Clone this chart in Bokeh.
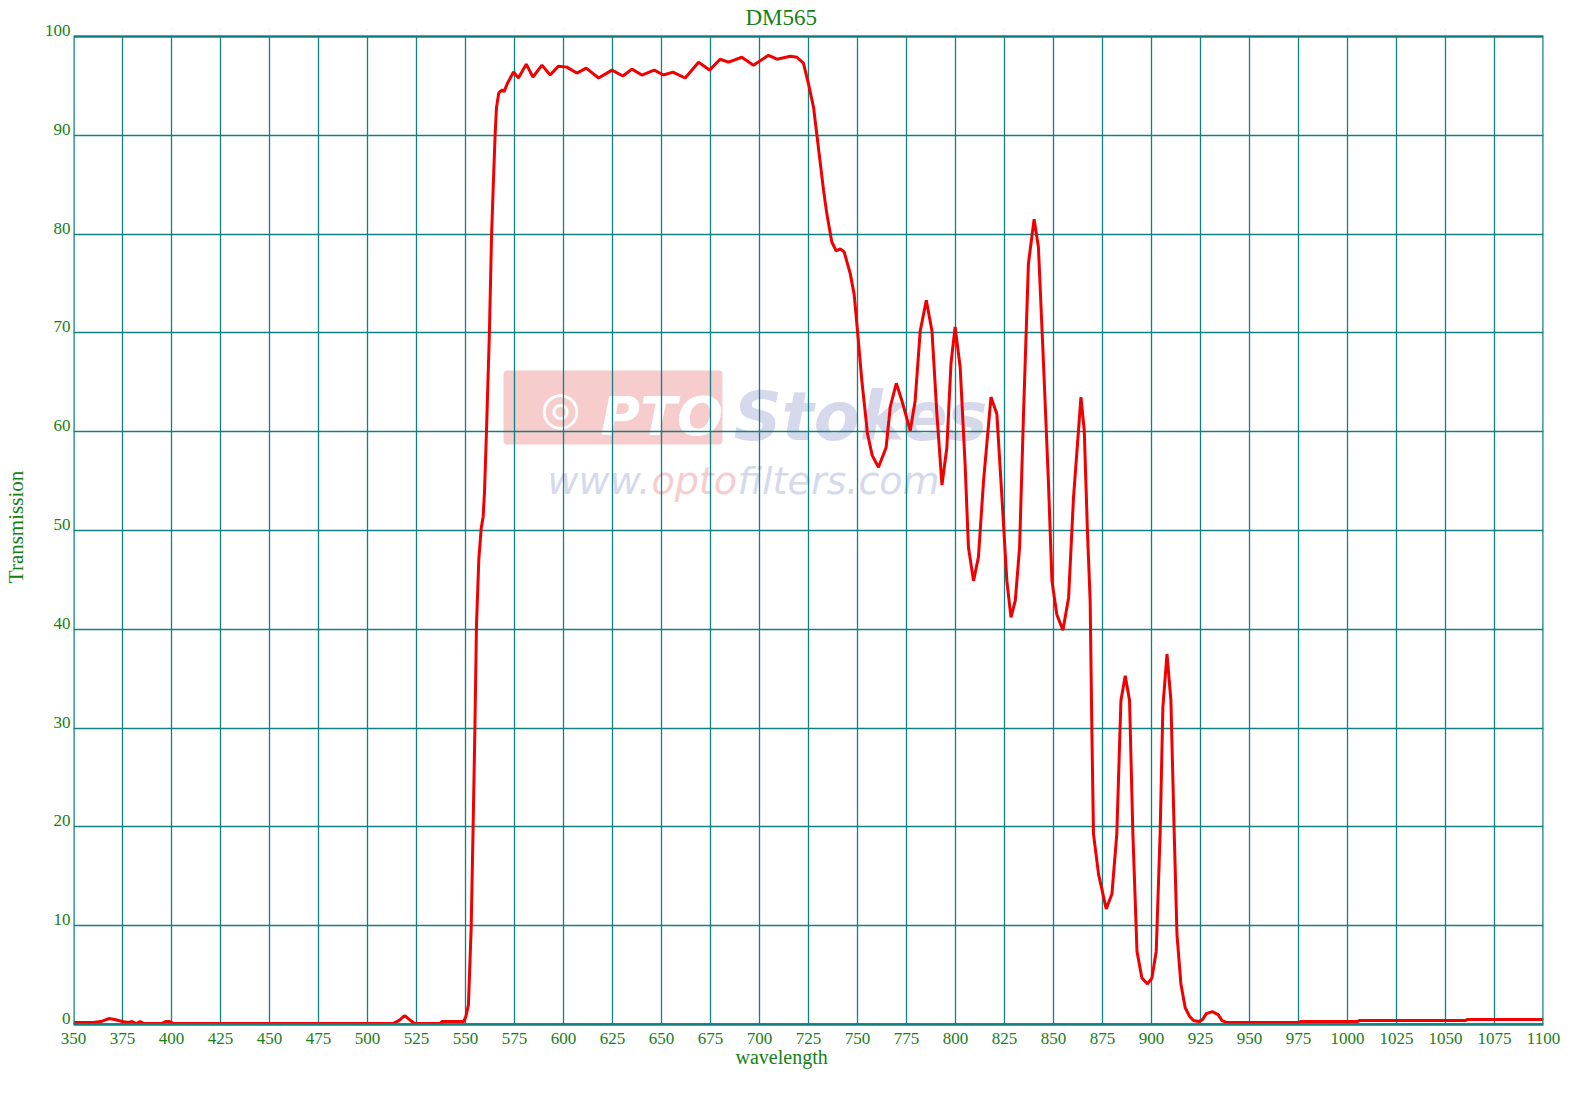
from bokeh.plotting import figure
from bokeh.models import (Label, FixedTicker, BoxAnnotation, Title, Grid,
                          LinearAxis, Range1d)
from bokeh.embed import file_html
from bokeh.resources import INLINE

# ---------------- data ----------------
wavelength = [
    350, 360, 364, 368, 371, 375, 378, 380, 382, 384, 386, 395, 397, 399, 401,
    450, 500, 513, 516, 519, 522, 524, 537, 538, 549,
    550.2, 551.5, 552.9, 553.9, 554.8, 555.6, 556.8, 558.0, 559.0, 559.7,
    560.7, 562.2, 563.3, 564.1, 565.1, 565.8, 567.0, 568.7, 569.6, 571.5,
    574.5, 577.0, 581.0, 584.4, 589.0, 593.2, 597.4, 601.7, 606.8, 611.6,
    617.9, 624.7, 630.3, 634.9, 640.0, 646.3, 651.0, 655.8, 662.1, 668.9,
    674.5, 679.9, 684.2, 691.0, 696.9, 704.6, 708.9, 715.7, 719.1, 722.4,
    725.0, 727.6, 729.3, 732.7, 734.4, 736.9, 739.1, 741.2, 743.2, 746.3,
    748.3, 750.0, 752.2, 755.1, 757.5, 760.7, 764.6, 766.7, 769.8, 772.7,
    776.9, 779.4, 782.0, 785.1, 788.0, 790.5, 793.1, 795.6, 797.7, 799.8,
    802.4, 804.9, 806.6, 809.2, 811.7, 814.3, 818.1, 821.1, 823.7, 826.2,
    828.3, 830.5, 832.7, 834.7, 837.2, 840.1, 842.3, 844.9, 847.4, 849.2,
    851.7, 854.8, 857.7, 860.2, 864.0, 865.7, 867.3, 868.7, 869.6, 870.4,
    873.0, 876.9, 879.8, 882.3, 884.4, 886.6, 888.8, 890.5, 892.6, 895.1,
    898.0, 900.2, 902.4, 904.4, 905.8, 907.9, 909.9, 911.6, 913.0, 915.0,
    917.2, 919.5, 921.4, 924, 926, 928, 931, 934, 936, 938.5,
    960, 975, 976, 1005, 1006, 1060, 1061, 1100,
]
transmission = [
    0.2, 0.2, 0.3, 0.6, 0.5, 0.3, 0.2, 0.3, 0.1, 0.3, 0.1, 0.1, 0.3, 0.3, 0.1,
    0.1, 0.1, 0.1, 0.4, 0.9, 0.4, 0.1, 0.1, 0.3, 0.3,
    0.8, 2.0, 9.8, 20.2, 30.0, 40.4, 47.1, 50.2, 51.4, 53.9,
    60.0, 70.1, 79.9, 84.5, 90.0, 92.8, 94.3, 94.6, 94.4, 95.3,
    96.4, 95.8, 97.2, 95.9, 97.1, 96.1, 97.0, 96.9, 96.3, 96.8,
    95.8, 96.6, 96.0, 96.7, 96.1, 96.6, 96.1, 96.4, 95.8, 97.4,
    96.6, 97.7, 97.4, 97.9, 97.1, 98.1, 97.7, 98.0, 97.9, 97.3,
    95.2, 92.8, 90.0, 84.4, 82.0, 79.2, 78.3, 78.5, 78.2, 76.0,
    73.9, 70.2, 65.2, 59.8, 57.6, 56.4, 58.4, 62.5, 64.9, 63.1,
    60.1, 63.1, 70.2, 73.3, 70.2, 61.8, 54.6, 58.4, 66.9, 70.6,
    66.5, 56.7, 48.3, 44.9, 47.3, 55.0, 63.5, 61.8, 53.3, 44.9,
    41.2, 42.9, 48.3, 61.8, 77.0, 81.5, 78.7, 66.9, 55.0, 44.9,
    41.5, 39.9, 43.2, 53.3, 63.5, 60.1, 50.0, 42.9, 29.4, 19.3,
    15.2, 11.7, 13.2, 19.3, 32.8, 35.3, 32.8, 19.3, 7.4, 4.7,
    4.1, 4.7, 7.4, 19.3, 32.1, 37.5, 32.8, 19.3, 9.1, 4.1,
    1.7, 0.8, 0.4, 0.3, 0.5, 1.1, 1.3, 1.0, 0.4, 0.2,
    0.2, 0.2, 0.3, 0.3, 0.4, 0.4, 0.5, 0.5,
]
x_ticks = list(range(350, 1101, 25))
y_ticks = list(range(0, 101, 10))
title_text = "DM565"
x_label = "wavelength"
y_label = "Transmission"

# ---------------- styling ----------------
TEAL = "#108080"
GREEN = "#168016"
RED = "#f00000"
SERIF = "Liberation Serif"

X0, X1, Y0, Y1 = 350, 1100, 0, 100
PLOT_L, PLOT_T, PLOT_W, PLOT_H = 73, 36, 1470, 988   # page box of the 350-1100 x 0-100 area
PAD_T = 7                                            # frame reaches a little above the 100 line
FL, FT, FW, FH = PLOT_L, PLOT_T - PAD_T, PLOT_W, PLOT_H + PAD_T
FR, FB = 30, 60
W, H = FL + FW + FR, FT + FH + FB
Y_TOP = Y1 + (Y1 - Y0) * PAD_T / PLOT_H
LABEL_LIFT = 0.6   # y tick labels sit a little above their grid line

def px2x(px):   # page pixel -> data x (figure sits at the page origin)
    return X0 + (px - PLOT_L) * (X1 - X0) / PLOT_W

def px2y(py):   # page pixel -> data y
    return Y0 + ((PLOT_T + PLOT_H) - py) * (Y1 - Y0) / PLOT_H

p = figure(width=W, height=H, x_range=(X0, X1), y_range=(Y0, Y_TOP),
           extra_y_ranges={"lab": Range1d(Y0 - LABEL_LIFT, Y_TOP - LABEL_LIFT)},
           output_backend="svg", toolbar_location=None,
           title_location=None, y_axis_location=None,
           min_border_left=FL, min_border_right=FR,
           min_border_top=FT, min_border_bottom=FB)
p.background_fill_color = "white"
p.border_fill_color = "white"
p.outline_line_color = None

# title
p.add_layout(Title(text=title_text, align="left", offset=672, standoff=0,
                   text_font=SERIF, text_font_size="23px", text_font_style="normal",
                   text_color=GREEN), "above")

# x axis
ax = p.xaxis[0]
ax.ticker = FixedTicker(ticks=x_ticks)
ax.major_tick_line_color = None
ax.minor_tick_line_color = None
ax.major_tick_out = 0
ax.major_tick_in = 0
ax.axis_line_color = TEAL
ax.axis_line_width = 2.5
ax.major_label_standoff = 8
ax.major_label_text_font = SERIF
ax.major_label_text_font_size = "17px"
ax.major_label_text_color = GREEN

p.add_layout(Title(text=x_label, align="left", offset=662, standoff=-6,
                   text_font=SERIF, text_font_size="20px", text_font_style="normal",
                   text_color=GREEN), "below")

# y axis (labels drawn on a slightly lifted copy of the y scale)
ay = LinearAxis(y_range_name="lab", ticker=FixedTicker(ticks=y_ticks))
ay.major_tick_line_color = None
ay.minor_tick_line_color = None
ay.major_tick_out = 0
ay.major_tick_in = 0
ay.axis_line_color = None
ay.major_label_standoff = 3
ay.major_label_text_font = SERIF
ay.major_label_text_font_size = "17px"
ay.major_label_text_color = GREEN
ay.axis_label = y_label
ay.axis_label_standoff = 14
ay.axis_label_text_font = SERIF
ay.axis_label_text_font_size = "21px"
ay.axis_label_text_font_style = "normal"
ay.axis_label_text_color = GREEN
p.add_layout(ay, "left")

# grid (inner lines; the outer ones are the border box)
p.xgrid.ticker = FixedTicker(ticks=x_ticks[1:-1])
p.xgrid.grid_line_color = TEAL
p.xgrid.grid_line_width = 1.3
p.add_layout(Grid(dimension=1, ticker=FixedTicker(ticks=y_ticks[:-1]),
                  grid_line_color=TEAL, grid_line_width=1.3))

# ---------------- watermark (under the grid) ----------------
p.add_layout(BoxAnnotation(left=px2x(503), right=px2x(722), top=px2y(370), bottom=px2y(444),
                           fill_color="#f7cccc", fill_alpha=1, line_color=None,
                           level="image", border_radius=4))
p.add_layout(Label(x=px2x(560), y=px2y(407), text="◎", text_align="center", text_baseline="middle",
                   text_font="DejaVu Sans", text_font_size="46px", text_color="white", level="image"))
p.add_layout(Label(x=px2x(600), y=px2y(416), text="PTO", text_align="left", text_baseline="alphabetic",
                   text_font="DejaVu Sans", text_font_style="bold italic", text_font_size="54px",
                   text_color="white", level="image"))
p.add_layout(Label(x=px2x(733), y=px2y(416), text="Stokes", text_align="left", text_baseline="alphabetic",
                   text_font="DejaVu Sans", text_font_style="bold italic", text_font_size="67px",
                   text_color="#d6d9ec", level="image"))
for txt, xp, col in [("www.", 547, "#d6d9ec"), ("opto", 651, "#f7cccc"), ("filters.com", 737, "#d6d9ec")]:
    p.add_layout(Label(x=px2x(xp), y=px2y(480), text=txt, text_align="left", text_baseline="alphabetic",
                       text_font="DejaVu Sans", text_font_style="italic", text_font_size="38px",
                       text_color=col, level="image"))

# ---------------- curve ----------------
p.line(wavelength, transmission, line_color=RED, line_width=3)

# ---------------- plot border (0-100 box) ----------------
p.add_layout(BoxAnnotation(bottom=Y1, fill_color="white", fill_alpha=1, line_color=None))
p.add_layout(BoxAnnotation(left=X0, right=X1, bottom=Y0, top=Y1, fill_alpha=0,
                           line_color=TEAL, line_alpha=1, line_width=2.5))

open("out.html", "w").write(file_html(p, INLINE))
